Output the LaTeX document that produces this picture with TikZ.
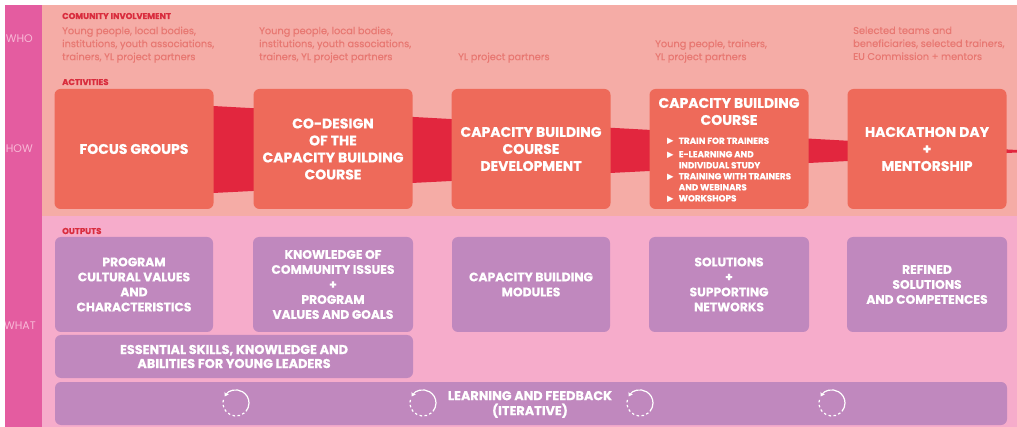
\documentclass[tikz,border=0pt]{standalone}
\usepackage{fontspec}
\setmainfont{Poppins}[BoldFeatures={FakeBold=0.5}]
\newfontfamily\whofont{Poppins}[FakeBold=0.25]
\newfontfamily\dejavu{DejaVu Sans}
\usetikzlibrary{arrows.meta,calc}
\definecolor{topbg}{RGB}{245,172,166}
\definecolor{botbg}{RGB}{246,172,203}
\definecolor{barc}{RGB}{228,92,160}
\definecolor{barlabel}{RGB}{248,184,214}
\definecolor{actc}{RGB}{238,106,90}
\definecolor{bandc}{RGB}{226,38,62}
\definecolor{outc}{RGB}{192,136,190}
\definecolor{hdrc}{RGB}{217,45,62}
\definecolor{whoc}{RGB}{232,120,114}
\newcommand{\tri}{{\dejavu\fontsize{8.5}{11}\selectfont ▶}}
\begin{document}
\begin{tikzpicture}[x=1pt,y=-1pt,
  actbox/.style={fill=actc, rounded corners=6pt, minimum width=159pt, minimum height=120pt, inner sep=0pt, text=white, align=center, font=\fontsize{14}{17}\selectfont\bfseries},
  acttext/.style={inner sep=0pt, text=white, align=center, font=\fontsize{14}{17}\selectfont\bfseries},
  outbox/.style={fill=outc, rounded corners=6pt, inner sep=0pt, text=white, align=center, font=\fontsize{12.3}{15}\selectfont\bfseries},
  hdr/.style={text=hdrc, anchor=base west, inner sep=0pt, font=\fontsize{8.5}{10}\selectfont\bfseries},
  whotext/.style={text=whoc, anchor=north west, inner sep=0pt, align=left, font=\whofont\fontsize{9.8}{13}\selectfont},
  side/.style={text=barlabel, anchor=base east, inner sep=0pt, font=\fontsize{11}{12}\selectfont},
  cyc/.style={white, line width=1.2pt},
]
\useasboundingbox (0,0) rectangle (1017,427);
\fill[white] (0,0) rectangle (1017,427);
\fill[topbg] (42,5) rectangle (1017,216);
\fill[botbg] (42,216) rectangle (1017,427);
\fill[barc] (5,5) rectangle (42,427);
\begin{scope}
\clip (5,5) rectangle (42,427);
\node[side] (who) at (33,42.5) {WHO};
\node[side] (how) at (33,152.5) {HOW};
\node[side] (what) at (36,329.5) {WHAT};
\end{scope}

\node[hdr] (hcom) at (62,19) {COMUNITY INVOLVEMENT};
\node[hdr] (hact) at (62,85) {ACTIVITIES};
\node[hdr] (hout) at (62,234) {OUTPUTS};

\node[whotext] (w1) at (62,26.5) {Young people, local bodies,\\institutions, youth associations,\\trainers, YL project partners};
\node[whotext] (w2) at (259,26.5) {Young people, local bodies,\\institutions, youth associations,\\trainers, YL project partners};
\node[whotext] (w3) at (458,52.5) {YL project partners};
\node[whotext] (w4) at (655,39.5) {Young people, trainers,\\YL project partners};
\node[whotext] (w5) at (853,26.5) {Selected teams and\\beneficiaries, selected trainers,\\EU Commission + mentors};

\coordinate (bandTL) at (213,106);
\coordinate (bandTR) at (1017,150);
\coordinate (bandBR) at (1017,152.5);
\coordinate (bandBL) at (213,193);
\fill[bandc] (bandTL) -- (bandTR) -- (bandBR) -- (bandBL) -- cycle;

\node[actbox] (a1) at (134,149) {FOCUS GROUPS};
\node[actbox] (a2) at (333,149) {CO-DESIGN\\OF THE\\CAPACITY BUILDING\\COURSE};
\node[actbox] (a3) at (531,149) {CAPACITY BUILDING\\COURSE\\DEVELOPMENT};
\node[actbox] (a4) at (729,149) {};
\node[actbox] (a5) at (927,149) {HACKATHON DAY\\+\\MENTORSHIP};
\node[acttext] (a4t) at (729,111.5) {CAPACITY BUILDING\\COURSE};
\node[anchor=north west, inner sep=0pt, text=white, font=\fontsize{8.8}{11}\selectfont\bfseries] (a4b) at (667,136)
 {\begin{tabular}{@{}l@{\hspace{5pt}}l@{}}
 \tri & TRAIN FOR TRAINERS\\[2.5pt]
 \tri & E-LEARNING AND\\
 & INDIVIDUAL STUDY\\
 \tri & TRAINING WITH TRAINERS\\
 & AND WEBINARS\\
 \tri & WORKSHOPS
 \end{tabular}};

\node[outbox, minimum width=158pt, minimum height=95pt] (o1) at (134,284.5) {PROGRAM\\CULTURAL VALUES\\AND\\CHARACTERISTICS};
\node[outbox, minimum width=160pt, minimum height=95pt] (o2) at (333,284.5) {KNOWLEDGE OF\\COMMUNITY ISSUES\\+\\PROGRAM\\VALUES AND GOALS};
\node[outbox, minimum width=158pt, minimum height=95pt] (o3) at (531,284.5) {CAPACITY BUILDING\\MODULES};
\node[outbox, minimum width=160pt, minimum height=95pt] (o4) at (729,284.5) {SOLUTIONS\\+\\SUPPORTING\\NETWORKS};
\node[outbox, minimum width=160pt, minimum height=95pt] (o5) at (927,284.5) {REFINED\\SOLUTIONS\\AND COMPETENCES};
\node[outbox, minimum width=358pt, minimum height=43pt, font=\fontsize{12.8}{14}\selectfont\bfseries] (ess) at (234,356.5) {ESSENTIAL SKILLS, KNOWLEDGE AND\\ABILITIES FOR YOUNG LEADERS};
\node[outbox, minimum width=952pt, minimum height=43pt] (learn) at (531,403.5) {};
\node[inner sep=0pt, text=white, align=center, font=\fontsize{12.8}{15}\selectfont\bfseries] (learnt) at (530,404.5) {LEARNING AND FEEDBACK\\(ITERATIVE)};

\foreach \n/\cx in {c1/236,c2/423,c3/640,c4/832}{
  \coordinate (\n) at (\cx,403);
  \draw[cyc, {Stealth[length=4pt,width=5pt]}-] ($(\n)+(-150:13)$) arc[start angle=-150, end angle=40, radius=13];
  \draw[cyc, dash pattern=on 2.5pt off 2.5pt] ($(\n)+(50:13)$) arc[start angle=50, end angle=200, radius=13];
}
\end{tikzpicture}
\end{document}
